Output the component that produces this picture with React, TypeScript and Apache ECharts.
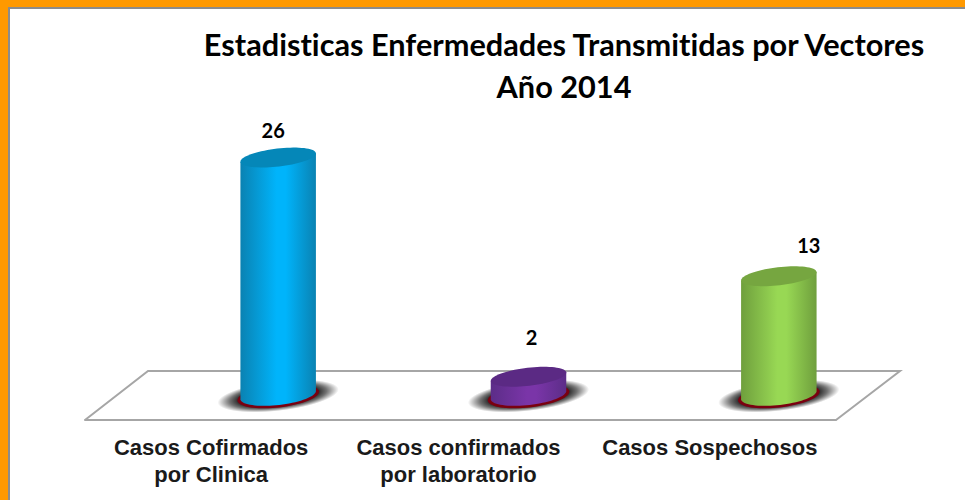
import React, { useEffect, useRef } from "react";
import * as echarts from "echarts";

const categories = ["Casos Cofirmados\npor Clinica", "Casos confirmados\npor laboratorio", "Casos Sospechosos"];
const values = [26, 2, 13];
const titleLines = "Estadisticas Enfermedades Transmitidas por Vectores\nAño 2014";

const sideEdge = ["#0a82b2", "#5c2d88", "#6f9f3d"];
const sideMid = ["#00b4fb", "#7a35a8", "#98d854"];
const topFill = ["#0587b8", "#5b2a84", "#76a640"];
const labelNudge = [[-5, -28], [3, -40], [30, -31]];
const categoryPadding = [[0, 0, 0, 2], [0, 4, 0, 0], [0, 2, 0, 0]];

const R_X = 38;
const R_Y = 9;
const TILT = (-6.6 * Math.PI) / 180;
const DEPTH_X = 68;
const DEPTH_Y = -25;

function ellipsePoint(cx: number, cy: number, a: number, b: number, t: number) {
  const c = Math.cos(t), s = Math.sin(t);
  return [
    cx + a * c * Math.cos(TILT) - b * s * Math.sin(TILT),
    cy + a * c * Math.sin(TILT) + b * s * Math.cos(TILT),
  ];
}

function tiltedEllipse(cx: number, cy: number, a: number, b: number, style: any) {
  const pts: number[][] = [];
  for (let i = 0; i < 72; i++) pts.push(ellipsePoint(cx, cy, a, b, (i / 72) * Math.PI * 2));
  return { type: "polygon", shape: { points: pts }, style };
}

function renderCylinder(params: any, api: any) {
  const i = params.dataIndex;
  const base = api.coord([i, 0]);
  const head = api.coord([i, api.value(1)]);
  const cx = base[0] + DEPTH_X;
  const by = base[1] + DEPTH_Y;
  const ty = head[1] + DEPTH_Y;
  const body: number[][] = [];
  for (let k = 0; k <= 36; k++) body.push(ellipsePoint(cx, by, R_X, R_Y + 1, Math.PI - (k / 36) * Math.PI));
  body.push(ellipsePoint(cx, ty, R_X, R_Y, 0));
  body.push(ellipsePoint(cx, ty, R_X, R_Y, Math.PI));
  const halo: any = {
    type: "ellipse",
    shape: { cx: 0, cy: 0, rx: 61, ry: 15 },
    x: cx,
    y: by + 1,
    rotation: -TILT,
    style: {
      fill: new echarts.graphic.RadialGradient(0.5, 0.5, 0.5, [
        { offset: 0, color: "rgba(0,0,0,1)" },
        { offset: 0.6, color: "rgba(0,0,0,0.95)" },
        { offset: 0.8, color: "rgba(0,0,0,0.55)" },
        { offset: 1, color: "rgba(0,0,0,0)" },
      ]),
    },
  };
  return {
    type: "group",
    children: [
      halo,
      tiltedEllipse(cx, by + 1, R_X + 3, R_Y + 2.5, { fill: "#7a0010" }),
      {
        type: "polygon",
        shape: { points: body },
        style: {
          fill: new echarts.graphic.LinearGradient(0, 0, 1, 0, [
            { offset: 0, color: sideEdge[i] },
            { offset: 0.48, color: sideMid[i] },
            { offset: 0.6, color: sideMid[i] },
            { offset: 1, color: sideEdge[i] },
          ]),
        },
      },
      tiltedEllipse(cx, ty, R_X, R_Y, { fill: topFill[i] }),
      {
        type: "text",
        style: {
          text: String(api.value(1)),
          x: cx + labelNudge[i][0],
          y: ty + labelNudge[i][1],
          align: "center",
          verticalAlign: "middle",
          font: "bold 20px Lato",
          fill: "#000",
        },
      },
    ],
  };
}

export default function App() {
  const ref = useRef<HTMLDivElement>(null);
  useEffect(() => {
    const chart = echarts.init(ref.current!, null, { renderer: "svg" });
    chart.setOption({
      animation: false,
      backgroundColor: "#ffffff",
      title: {
        text: titleLines,
        left: 559,
        top: 18,
        textAlign: "center",
        textStyle: { fontFamily: "Lato", fontWeight: "bold", fontSize: 30.7, lineHeight: 42, color: "#000" },
      },
      grid: { left: 85, width: 751, top: 146, height: 274 },
      xAxis: {
        type: "category",
        data: categories.map((value, i) => ({ value, textStyle: { padding: categoryPadding[i] } })),
        axisLine: { show: true, lineStyle: { color: "#a6a6a6", width: 2 } },
        axisTick: { show: false },
        axisLabel: {
          interval: 0,
          margin: 14,
          fontFamily: "Liberation Sans",
          fontWeight: "bold",
          fontSize: 22,
          lineHeight: 27,
          color: "#1a1a1a",
          verticalAlign: "top",
        },
      },
      yAxis: { type: "value", min: 0, max: 30, show: false, splitLine: { show: false } },
      graphic: [
        { type: "rect", silent: true, z: -10, shape: { x: 0, y: 0, width: 965, height: 500 }, style: { fill: "#ff9900" } },
        { type: "rect", silent: true, z: -9, shape: { x: 8, y: 7, width: 957, height: 493 }, style: { fill: "#8c8c8c" } },
        { type: "rect", silent: true, z: -8, shape: { x: 10, y: 9, width: 955, height: 491 }, style: { fill: "#ffffff" } },
        {
          type: "polyline",
          silent: true,
          z: -5,
          shape: { points: [[85, 420], [148, 371], [900, 371], [836, 420]] },
          style: { stroke: "#a6a6a6", lineWidth: 2, fill: "none" },
        },
      ],
      series: [
        {
          type: "custom",
          coordinateSystem: "cartesian2d",
          renderItem: renderCylinder,
          encode: { x: 0, y: 1 },
          data: values.map((v, i) => [i, v]),
          silent: true,
          clip: false,
          z: 5,
        },
      ],
    });
    return () => chart.dispose();
  }, []);
  return (
    <>
      <style>{"text { font-variant-ligatures: none !important; font-feature-settings: 'liga' 0 !important; }"}</style>
      <div ref={ref} style={{ position: "fixed", left: 0, top: 0, width: 965, height: 500 }} />
    </>
  );
}
